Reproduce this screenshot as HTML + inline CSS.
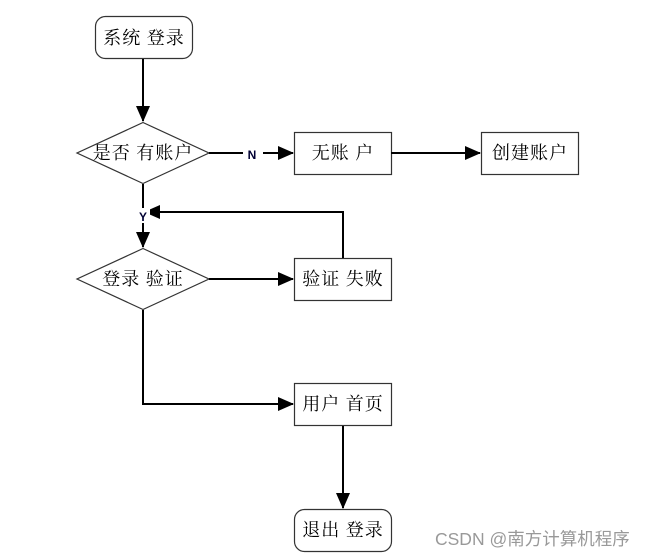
<!DOCTYPE html>
<html><head><meta charset="utf-8"><style>
html,body{margin:0;padding:0;background:#fff;}
svg{display:block;}
text{font-family:"Liberation Serif","Noto Serif CJK SC","Noto Sans CJK SC",serif;font-size:18px;letter-spacing:1px;fill:#000;}
</style></head><body>
<svg width="661" height="556" viewBox="0 0 661 556" xmlns="http://www.w3.org/2000/svg">
<defs><marker id="a" markerWidth="16" markerHeight="14" refX="15" refY="7" orient="auto" markerUnits="userSpaceOnUse"><path d="M0,0 L16,7 L0,14 z" fill="#000"/></marker></defs>
<g fill="#fff" stroke="#333" stroke-width="1.2">
<rect x="95.5" y="16.5" width="97" height="42" rx="10"/>
<polygon points="143,122.5 209,153 143,183.5 77,153"/>
<rect x="294.5" y="132.5" width="97" height="42"/>
<rect x="481.5" y="132.5" width="97" height="42"/>
<polygon points="143,248.5 209,279 143,309.5 77,279"/>
<rect x="294.5" y="258.5" width="97" height="42"/>
<rect x="294.5" y="383.5" width="97" height="42"/>
<rect x="294.5" y="509.5" width="97" height="42" rx="10"/>
</g>
<g stroke="#000" stroke-width="2" fill="none">
<line x1="143" y1="59" x2="143" y2="121" marker-end="url(#a)"/>
<line x1="209" y1="153" x2="293" y2="153" marker-end="url(#a)"/>
<line x1="391" y1="153" x2="480" y2="153" marker-end="url(#a)"/>
<line x1="143" y1="184" x2="143" y2="247" marker-end="url(#a)"/>
<polyline points="343,258 343,212 145,212" marker-end="url(#a)"/>
<line x1="209" y1="279" x2="293" y2="279" marker-end="url(#a)"/>
<polyline points="143,310 143,404 293,404" marker-end="url(#a)"/>
<line x1="343" y1="426" x2="343" y2="508" marker-end="url(#a)"/>
</g>
<rect x="243" y="146" width="20" height="15" fill="#fff"/>
<rect x="136" y="208" width="14" height="15" fill="#fff"/>
<text x="252" y="159" text-anchor="middle" style="font-family:'Liberation Sans',sans-serif;font-size:12px;letter-spacing:0;font-weight:bold;fill:#000033">N</text>
<text x="143" y="221" text-anchor="middle" style="font-family:'Liberation Sans',sans-serif;font-size:12px;letter-spacing:0;font-weight:bold;fill:#000033">Y</text>
<g text-anchor="middle">
<text x="144" y="44">系统 登录</text>
<text x="143" y="159">是否 有账户</text>
<text x="343" y="159">无账 户</text>
<text x="530" y="159">创建账户</text>
<text x="143" y="285">登录 验证</text>
<text x="343" y="285">验证 失败</text>
<text x="343" y="410">用户 首页</text>
<text x="343" y="536">退出 登录</text>
</g>
<text x="435" y="545" style="font-family:'Liberation Sans','Noto Sans CJK SC',sans-serif;font-size:17.5px;letter-spacing:0;fill:#999">CSDN @南方计算机程序</text>
</svg>
</body></html>
